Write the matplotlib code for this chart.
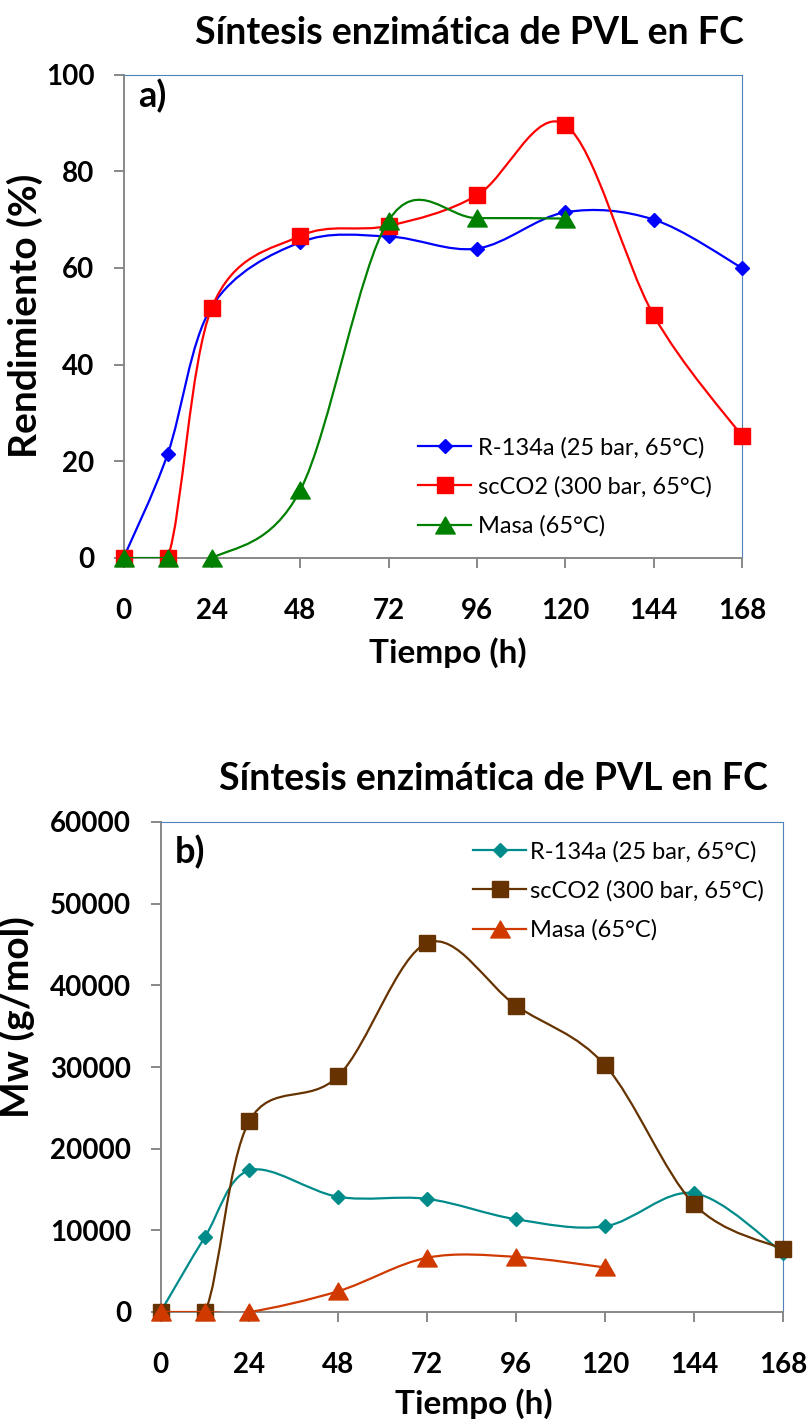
import numpy as np
import matplotlib
matplotlib.use("Agg")
import matplotlib.pyplot as plt
from matplotlib.path import Path
from matplotlib.patches import PathPatch
from matplotlib.lines import Line2D

plt.rcParams['font.family'] = ['Lato', 'DejaVu Sans']

# ---------------- data ----------------
hours = [0, 12, 24, 48, 72, 96, 120, 144, 168]
hours_masa = [0, 12, 24, 48, 72, 96, 120]
x_ticks = [0, 24, 48, 72, 96, 120, 144, 168]

rend_r134a = [0, 21.5, 52, 65.3, 66.5, 64, 71.5, 70, 60]
rend_scco2 = [0, 0, 51.8, 66.6, 68.7, 75, 89.6, 50.2, 25.2]
rend_masa = [0, 0, 0, 14, 69.8, 70.3, 70.2]

mw_r134a = [0, 9200, 17350, 14100, 13850, 11350, 10500, 14550, 7250]
mw_scco2 = [0, 0, 23400, 28900, 45200, 37500, 30200, 13200, 7700]
mw_masa = [0, 0, 0, 2550, 6650, 6750, 5450]

series_labels = ["R-134a (25 bar, 65°C)", "scCO2 (300 bar, 65°C)", "Masa (65°C)"]
title_text = "Síntesis enzimática de PVL en FC"

W, H = 808, 1421
fig = plt.figure(figsize=(W / 100, H / 100), dpi=100)

# triangle marker whose bounding box is centred on the data point
TRI = Path([(-1.0, -0.87), (1.0, -0.87), (0.0, 0.87), (-1.0, -0.87)],
           [Path.MOVETO, Path.LINETO, Path.LINETO, Path.CLOSEPOLY])


def smooth_path(xs, ys):
    """Excel-style smoothed line: cubic Bezier through every data point."""
    pts = np.column_stack([xs, ys]).astype(float)
    n = len(pts)
    verts = [pts[0]]
    codes = [Path.MOVETO]
    for i in range(n - 1):
        p_prev = pts[i - 1] if i > 0 else pts[i]
        p0 = pts[i]
        p1 = pts[i + 1]
        p_next = pts[i + 2] if i + 2 < n else pts[i + 1]
        c1 = p0 + (p1 - p_prev) / 6.0
        c2 = p1 - (p_next - p0) / 6.0
        verts += [c1, c2, p1]
        codes += [Path.CURVE4] * 3
    return Path(verts, codes)


def px_rect(l, t, r, b):
    return [l / W, 1 - b / H, (r - l) / W, (b - t) / H]


def style_axes(ax, ymax, ystep):
    ax.set_xlim(0, 168)
    ax.set_ylim(0, ymax)
    ax.set_xticks(x_ticks)
    ax.set_yticks(np.arange(0, ymax + 1, ystep))
    for s in ['left', 'bottom']:
        ax.spines[s].set_color('#888888')
        ax.spines[s].set_linewidth(1.4)
    for s in ['top', 'right']:
        ax.spines[s].set_color('#4F81BD')
        ax.spines[s].set_linewidth(0.8)
    ax.tick_params(axis='x', direction='out', length=7, width=1.4, color='#888888',
                   pad=22, labelsize=20)
    ax.tick_params(axis='y', direction='out', length=7, width=1.4, color='#888888',
                   pad=14, labelsize=20)
    for lab in ax.get_xticklabels() + ax.get_yticklabels():
        lab.set_fontweight('bold')
    ax.set_facecolor('white')


def draw_series(ax, xs, ys, color, marker, ms, z):
    ax.add_patch(PathPatch(smooth_path(xs, ys), fill=False, edgecolor=color,
                           lw=1.6, zorder=z))
    ax.plot(xs, ys, linestyle='none', marker=marker, ms=ms, color=color,
            mec=color, clip_on=False, zorder=z + 0.5)
    return Line2D([], [], color=color, lw=1.6, marker=marker, ms=ms, mec=color)


# ---------------- top chart ----------------
ax1 = fig.add_axes(px_rect(123.5, 74.5, 742, 558))
style_axes(ax1, 100, 20)
cols1 = ['#0000FF', '#FF0000', '#008000']
h1 = [draw_series(ax1, hours, rend_r134a, cols1[0], 'D', 7.5, 3),
      draw_series(ax1, hours, rend_scco2, cols1[1], 's', 11, 4),
      draw_series(ax1, hours_masa, rend_masa, cols1[2], TRI, 14, 5)]
ax1.legend(h1, series_labels, loc='center left',
           bbox_to_anchor=((418 - 123.5) / 618.5, (558 - 487) / 483.5),
           frameon=False, fontsize=17, borderpad=0, borderaxespad=0,
           handlelength=2.25, handletextpad=0.3, labelspacing=0.75)
ax1.text((138 - 123.5) / 618.5, (558 - 96) / 483.5, "a)", transform=ax1.transAxes,
         fontsize=26, fontweight='bold', ha='left', va='center')
ax1.set_xlabel("Tiempo (h)", fontsize=24, fontweight='bold')
ax1.xaxis.set_label_coords((448 - 123.5) / 618.5, (558 - 653) / 483.5)
ax1.xaxis.label.set_va('center')
ax1.set_ylabel("Rendimiento (%)", fontsize=28, fontweight='bold')
ax1.yaxis.set_label_coords((25 - 123.5) / 618.5, (558 - 316) / 483.5)
ax1.yaxis.label.set_va('center')

# ---------------- bottom chart ----------------
ax2 = fig.add_axes(px_rect(160.5, 822, 783, 1312))
style_axes(ax2, 60000, 10000)
cols2 = ['#008B8B', '#663300', '#D03A00']
h2 = [draw_series(ax2, hours, mw_r134a, cols2[0], 'D', 7.5, 3),
      draw_series(ax2, hours, mw_scco2, cols2[1], 's', 11, 4),
      draw_series(ax2, hours_masa, mw_masa, cols2[2], TRI, 14, 5)]
ax2.legend(h2, series_labels, loc='center left',
           bbox_to_anchor=((473 - 160.5) / 622.5, (1312 - 891) / 490),
           frameon=False, fontsize=17, borderpad=0, borderaxespad=0,
           handlelength=2.25, handletextpad=0.15, labelspacing=0.75)
ax2.text((175 - 160.5) / 622.5, (1312 - 852) / 490, "b)", transform=ax2.transAxes,
         fontsize=26, fontweight='bold', ha='left', va='center')
ax2.set_xlabel("Tiempo (h)", fontsize=24, fontweight='bold')
ax2.xaxis.set_label_coords((474 - 160.5) / 622.5, (1312 - 1404) / 490)
ax2.xaxis.label.set_va('center')
ax2.set_ylabel("Mw (g/mol)", fontsize=28, fontweight='bold')
ax2.yaxis.set_label_coords((17 - 160.5) / 622.5, (1312 - 1017) / 490)
ax2.yaxis.label.set_va('center')

# ---------------- titles ----------------
fig.text(469 / W, 1 - 33 / H, title_text, fontsize=27, fontweight='bold',
         ha='center', va='center')
fig.text(493.5 / W, 1 - 779 / H, title_text, fontsize=27, fontweight='bold',
         ha='center', va='center')

fig.savefig("out.png", dpi=100, facecolor='white')
